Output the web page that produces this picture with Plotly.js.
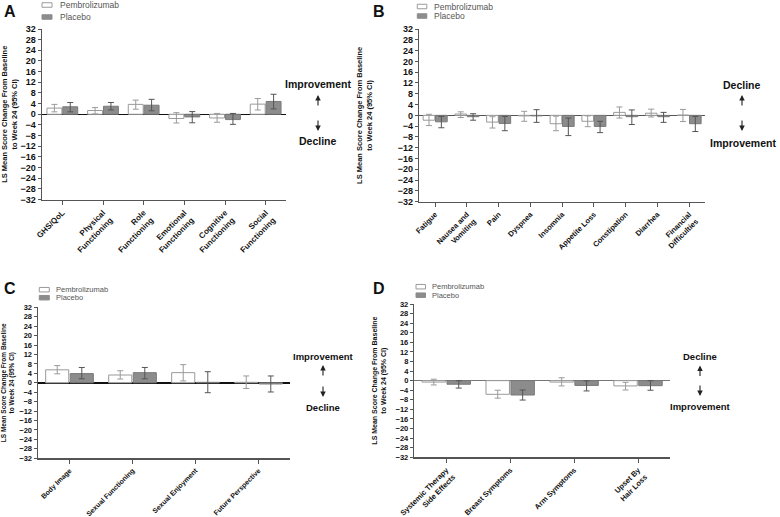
<!DOCTYPE html>
<html>
<head>
<meta charset="utf-8">
<script src="https://cdn.plot.ly/plotly-3.0.1.min.js"></script>
<style>html,body{margin:0;padding:0;background:#fff}#chart{width:780px;height:517px}</style>
</head>
<body>
<div id="chart"></div>
<script>
// ---------- data ----------
const seriesNames = ['Pembrolizumab', 'Placebo'];
const yTitleText = 'LS Mean Score Change From Baseline<br>to Week 24 (95% CI)';

// Panel A - functional scales
const catA = ['GHS/QoL', 'Physical<br>Functioning', 'Role<br>Functioning', 'Emotional<br>Functioning', 'Cognitive<br>Functioning', 'Social<br>Functioning'];
const pembroA = [2.3, 1.4, 3.7, -1.6, -1.4, 3.8];
const pembroA_lo = [0.9, 0.1, 1.9, -3.3, -3.0, 1.6];
const pembroA_hi = [3.7, 2.5, 5.3, 0.6, 0.3, 5.9];
const placeboA = [2.8, 3.0, 3.4, -1.0, -2.0, 4.8];
const placeboA_lo = [0.9, 1.6, 1.3, -3.2, -3.8, 2.0];
const placeboA_hi = [4.4, 4.4, 5.6, 1.0, 0.3, 7.5];

// Panel B - symptom scales
const catB = ['Fatigue', 'Nausea and<br>Vomiting', 'Pain', 'Dyspnea', 'Insomnia', 'Appetite Loss', 'Constipation', 'Diarrhea', 'Financial<br>Difficulties'];
const pembroB = [-1.8, 0.5, -2.5, -0.2, -3.1, -2.2, 1.1, 0.8, 0.1];
const pembroB_lo = [-3.8, -0.8, -4.7, -2.2, -5.7, -4.2, -1.0, -0.6, -2.3];
const pembroB_hi = [0.4, 1.3, -0.5, 1.5, -0.3, -0.2, 3.1, 2.3, 2.2];
const placeboB = [-2.4, -0.5, -3.0, -0.2, -4.1, -4.1, -0.5, -0.5, -3.1];
const placeboB_lo = [-4.6, -1.8, -5.7, -2.6, -7.5, -6.4, -3.4, -2.6, -6.0];
const placeboB_hi = [-0.4, 0.6, -0.4, 2.1, -1.0, -2.2, 2.0, 1.1, -0.4];

// Panel C - BR23 functional scales
const catC = ['Body Image', 'Sexual Functioning', 'Sexual Enjoyment', 'Future Perspective'];
const pembroC = [5.5, 3.3, 4.3, 0.2];
const pembroC_lo = [3.8, 1.6, 0.8, -2.4];
const pembroC_hi = [7.3, 5.1, 7.7, 2.9];
const placeboC = [3.9, 4.3, 0.2, -0.5];
const placeboC_lo = [1.7, 1.7, -4.2, -3.9];
const placeboC_hi = [6.5, 6.5, 4.7, 2.9];

// Panel D - BR23 symptom scales
const catD = ['Systemic Therapy<br>Side Effects', 'Breast Symptoms', 'Arm Symptoms', 'Upset By<br>Hair Loss'];
const pembroD = [-0.6, -5.7, -0.6, -2.2];
const pembroD_lo = [-1.8, -7.3, -2.2, -3.9];
const pembroD_hi = [0.6, -4.0, 1.2, -0.7];
const placeboD = [-1.5, -6.0, -2.0, -2.1];
const placeboD_lo = [-3.1, -8.1, -4.3, -4.0];
const placeboD_hi = [0.0, -3.9, -0.1, 0.0];

// ---------- styling ----------
const FONT = 'Liberation Sans, Arial, sans-serif';
const W = 780, H = 517;
const px = x => x / W;
const py = y => 1 - y / H;

function errBars(v, lo, hi, color) {
  return {
    type: 'data', symmetric: false,
    array: hi.map((h, i) => h - v[i]),
    arrayminus: lo.map((l, i) => v[i] - l),
    color: color, thickness: 1, width: 3
  };
}
function pair(cats, pv, plo, phi, qv, qlo, qhi, xa, ya) {
  return [
    { type: 'bar', name: seriesNames[0], x: cats, y: pv, xaxis: xa, yaxis: ya,
      marker: { color: '#ffffff', line: { color: '#9a9a9a', width: 1 } },
      error_y: errBars(pv, plo, phi, '#9a9a9a'), showlegend: false, hoverinfo: 'y' },
    { type: 'bar', name: seriesNames[1], x: cats, y: qv, xaxis: xa, yaxis: ya,
      marker: { color: '#8c8c8c', line: { color: '#7a7a7a', width: 1 } },
      error_y: errBars(qv, qlo, qhi, '#555555'), showlegend: false, hoverinfo: 'y' }
  ];
}

const data = [].concat(
  pair(catA, pembroA, pembroA_lo, pembroA_hi, placeboA, placeboA_lo, placeboA_hi, 'x', 'y'),
  pair(catB, pembroB, pembroB_lo, pembroB_hi, placeboB, placeboB_lo, placeboB_hi, 'x2', 'y2'),
  pair(catC, pembroC, pembroC_lo, pembroC_hi, placeboC, placeboC_lo, placeboC_hi, 'x3', 'y3'),
  pair(catD, pembroD, pembroD_lo, pembroD_hi, placeboD, placeboD_lo, placeboD_hi, 'x4', 'y4')
);

function xAxis(dom, anchor, size) {
  return {
    domain: [px(dom[0]), px(dom[1])], anchor: anchor, type: 'category',
    showline: true, linecolor: '#555', linewidth: 1.5, mirror: false,
    ticks: 'outside', ticklen: 4, tickcolor: '#555', tickwidth: 1,
    tickangle: -45, showgrid: false, zeroline: false, automargin: false,
    tickfont: { family: FONT, size: size, color: '#111', weight: 'bold' }
  };
}
function yAxis(dom, anchor, size, tsize, standoff, zc) {
  return {
    domain: [py(dom[1]), py(dom[0])], anchor: anchor, range: [-32, 32],
    tick0: 0, dtick: 4, showline: true, linecolor: '#555', linewidth: 1.5,
    ticks: 'outside', ticklen: 3, tickcolor: '#555', tickwidth: 1,
    showgrid: false, zeroline: true, zerolinecolor: zc, zerolinewidth: 1.5,
    automargin: false,
    tickfont: { family: FONT, size: size, color: '#111', weight: 'bold' },
    title: { text: yTitleText, standoff: standoff,
             font: { family: FONT, size: tsize, color: '#111', weight: 'bold' } }
  };
}

const shapes = [];
const annotations = [];
function legendAt(bx, y1, y2, tx, bw, bh, fs) {
  [[y1, '#ffffff', '#9a9a9a'], [y2, '#8c8c8c', '#8c8c8c']].forEach((d, i) => {
    shapes.push({ type: 'rect', xref: 'paper', yref: 'paper',
      x0: px(bx), x1: px(bx + bw), y0: py(d[0] + bh / 2), y1: py(d[0] - bh / 2),
      fillcolor: d[1], line: { color: d[2], width: 1 } });
    annotations.push({ xref: 'paper', yref: 'paper', x: px(tx), y: py(d[0]),
      xanchor: 'left', yanchor: 'middle', showarrow: false, text: seriesNames[i],
      font: { family: FONT, size: fs, color: '#555' } });
  });
}
legendAt(42, 5, 17, 58, 10, 4.5, 8.5);
legendAt(417.3, 6.5, 16, 431.7, 9.5, 4.5, 8.5);
legendAt(39.3, 289.7, 297.7, 54, 10, 4.5, 7.5);
legendAt(416, 286.7, 295.2, 430, 9.5, 4.5, 7.5);

function label(text, x, y, size, color) {
  annotations.push({ xref: 'paper', yref: 'paper', x: px(x), y: py(y),
    xanchor: 'center', yanchor: 'middle', showarrow: false, text: text,
    font: { family: FONT, size: size, color: color || '#111', weight: 'bold' } });
}
// arrow drawn with annotation arrow: tip at (x, yTip), tail offset len px
function arrow(x, yTip, len) {
  annotations.push({ xref: 'paper', yref: 'paper', x: px(x), y: py(yTip),
    ax: 0, ay: len, axref: 'pixel', ayref: 'pixel', text: '', showarrow: true,
    arrowhead: 2, arrowsize: 1, arrowwidth: 1.1, arrowcolor: '#222',
    startstandoff: 0, standoff: 0 });
}
// panel letters
label('A', 10, 12, 16); label('B', 379, 12, 16);
label('C', 10, 288, 16); label('D', 379, 288, 16);
// direction notes
label('Improvement', 318, 84, 10.5); arrow(318, 95, 12); arrow(318, 131, -12); label('Decline', 318, 141, 10.5);
label('Decline', 742, 85, 10.5); arrow(742, 95, 12); arrow(742, 131, -12); label('Improvement', 743, 143, 10.5);
label('Improvement', 323, 356, 9.5); arrow(323, 365, 12); arrow(323, 397, -12); label('Decline', 323, 407, 9.5);
label('Decline', 700, 356, 9.5); arrow(700, 365.5, 12); arrow(700, 396, -12); label('Improvement', 700, 406.5, 9.5);

const layout = {
  width: W, height: H, margin: { l: 0, r: 0, t: 0, b: 0 },
  paper_bgcolor: '#fff', plot_bgcolor: '#fff',
  barmode: 'group', bargap: 0.22, bargroupgap: 0.06,
  showlegend: false,
  font: { family: FONT },
  xaxis: xAxis([42, 286], 'y', 8),
  yaxis: yAxis([29, 199.5], 'x', 9, 7.5, 6, '#111'),
  xaxis2: xAxis([419.3, 705], 'y2', 7.5),
  yaxis2: yAxis([29, 201.7], 'x2', 9, 7.5, 24, '#555'),
  xaxis3: xAxis([38, 290], 'y3', 7),
  yaxis3: yAxis([307.3, 458.3], 'x3', 7.5, 6.5, 5, '#111'),
  xaxis4: xAxis([414.3, 670], 'y4', 7.5),
  yaxis4: yAxis([304, 457.3], 'x4', 7.5, 7, 8, '#777'),
  shapes: shapes,
  annotations: annotations
};

Plotly.newPlot('chart', data, layout, { displayModeBar: false, staticPlot: true });
</script>
</body>
</html>
